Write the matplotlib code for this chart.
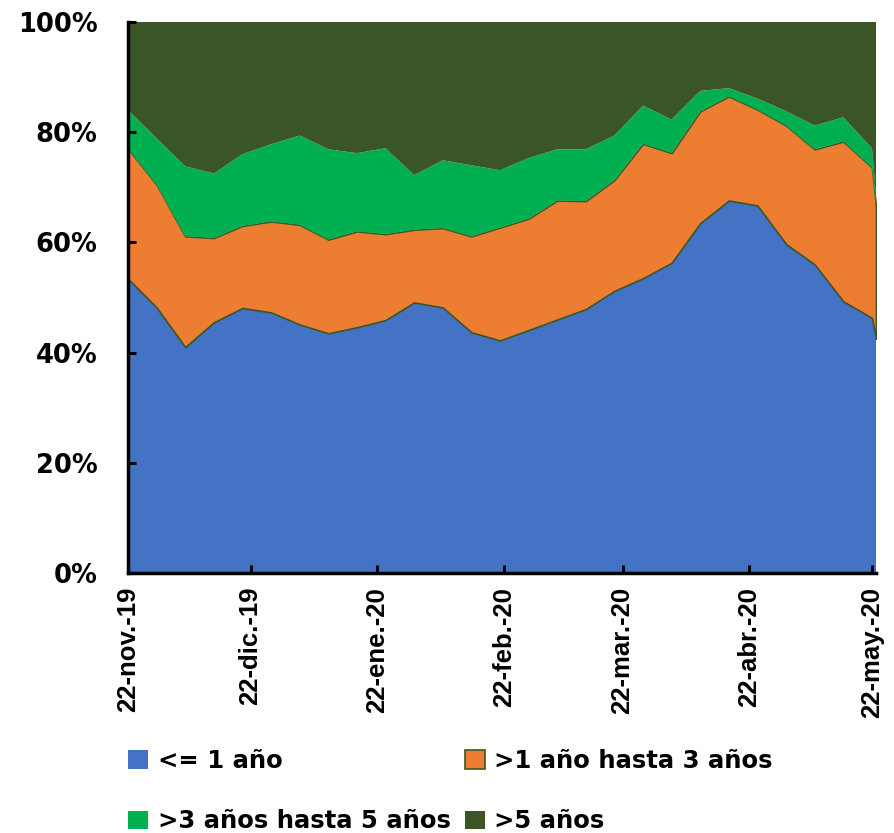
import numpy as np
import pandas as pd
import matplotlib
matplotlib.use("Agg")
import matplotlib.pyplot as plt
import matplotlib.dates as mdates

# weekly observations (Fridays) plus the last daily point
dates = pd.date_range("2019-11-22", "2020-05-22", freq="7D").append(
    pd.DatetimeIndex(["2020-05-23"]))

hasta_1 = [53.4, 48.2, 41.0, 45.5, 48.1, 47.3, 45.1, 43.5, 44.6, 45.9, 49.1, 48.2, 43.7, 42.2,
           44.1, 46.0, 47.9, 51.2, 53.5, 56.3, 63.5, 67.6, 66.7, 59.7, 56.0, 49.3, 46.3, 42.5]
de_1_a_3 = [23.6, 22.3, 20.1, 15.3, 14.9, 16.5, 18.1, 17.0, 17.4, 15.6, 13.2, 14.4, 17.4, 20.5,
            20.2, 21.6, 19.6, 20.1, 24.4, 19.9, 20.3, 18.9, 17.4, 21.5, 20.9, 29.0, 27.3, 24.0]
de_3_a_5 = [7.0, 8.4, 12.7, 11.7, 13.0, 14.0, 16.2, 16.4, 14.2, 15.6, 9.9, 12.3, 12.9, 10.4,
            11.0, 9.3, 9.4, 8.1, 6.9, 6.1, 3.7, 1.5, 2.0, 2.6, 4.3, 4.4, 3.5, 2.0]
mas_5 = [16.0, 21.1, 26.2, 27.5, 24.0, 22.2, 20.6, 23.1, 23.8, 22.9, 27.8, 25.1, 26.0, 26.9,
         24.7, 23.1, 23.1, 20.6, 15.2, 17.7, 12.5, 12.0, 13.9, 16.2, 18.8, 17.3, 22.9, 31.5]

labels = ["<= 1 año", ">1 año hasta 3 años", ">3 años hasta 5 años", ">5 años"]
colors = ["#4472C4", "#ED7D31", "#00B050", "#3B5626"]

tick_dates = pd.to_datetime(["2019-11-22", "2019-12-22", "2020-01-22", "2020-02-22",
                             "2020-03-22", "2020-04-22", "2020-05-22"])
tick_labels = ["22-nov.-19", "22-dic.-19", "22-ene.-20", "22-feb.-20",
               "22-mar.-20", "22-abr.-20", "22-may.-20"]

W, H = 894, 833
fig = plt.figure(figsize=(W / 100, H / 100), dpi=100)
ax = fig.add_axes([128 / W, 1 - 573 / H, (876 - 128) / W, (573 - 22) / H])

polys = ax.stackplot(dates, hasta_1, de_1_a_3, de_3_a_5, mas_5,
                     colors=colors, labels=labels, linewidth=0)
# orange series carries a thin dark-green border (visible along the blue top)
polys[1].set_edgecolor("#3B5626")
polys[1].set_linewidth(1.2)

ax.set_xlim(dates[0], dates[-1])
ax.set_ylim(0, 100)

ax.set_yticks([0, 20, 40, 60, 80, 100])
ax.set_yticklabels([f"{v}%" for v in [0, 20, 40, 60, 80, 100]])
ax.set_xticks(mdates.date2num(tick_dates))
ax.set_xticklabels(tick_labels, rotation=90)

for s in ["top", "right"]:
    ax.spines[s].set_visible(False)
for s in ["left", "bottom"]:
    ax.spines[s].set_linewidth(2.5)
    ax.spines[s].set_color("black")
    ax.spines[s].set_zorder(5)

ax.tick_params(axis="both", direction="in", length=6, width=2.2, color="black")
ax.tick_params(axis="y", pad=22)
ax.tick_params(axis="x", pad=10)
for t in ax.get_yticklabels():
    t.set_fontsize(18.5)
    t.set_fontweight("bold")
    t.set_fontfamily("DejaVu Sans")
for t in ax.get_xticklabels():
    t.set_fontsize(18.5)
    t.set_fontweight("bold")
    t.set_fontfamily("Liberation Sans")

# row-wise legend order
handles, labs = ax.get_legend_handles_labels()
order = [0, 2, 1, 3]
fig.legend([handles[i] for i in order], [labs[i] for i in order],
           loc="upper left", bbox_to_anchor=(128 / W, 1 - 749 / H), ncol=2,
           frameon=False, borderpad=0, borderaxespad=0, handlelength=0.82,
           handleheight=0.82, handletextpad=0.4, columnspacing=0.58, labelspacing=1.5,
           prop={"family": "DejaVu Sans", "weight": "bold", "size": 17.5})

fig.savefig("out.png", dpi=100)
